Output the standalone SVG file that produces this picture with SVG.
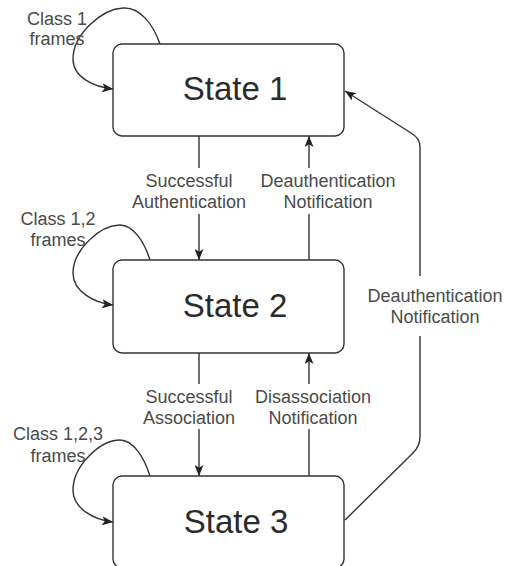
<svg xmlns="http://www.w3.org/2000/svg" width="505" height="566" viewBox="0 0 505 566">
  <style>
    .box { fill: #ffffff; stroke: #333333; stroke-width: 1.4; }
    .state { font-family: "Liberation Sans", Arial, sans-serif; font-size: 33px; fill: #2b2b2b; text-anchor: middle; }
    .lbl { font-family: "Liberation Sans", Arial, sans-serif; font-size: 18px; fill: #4a4a4a; text-anchor: middle; }
    .edge { fill: none; stroke: #333333; stroke-width: 1.4; marker-end: url(#arrow); }
    .bg { fill: #ffffff; }
  </style>
  <defs>
    <marker id="arrow" viewBox="0 0 11 9" refX="11" refY="4.5" markerWidth="11" markerHeight="9" markerUnits="userSpaceOnUse" orient="auto">
      <path d="M0,0 L11,4.5 L0,9 L2.8,4.5 Z" fill="#222222"/>
    </marker>
  </defs>
  <rect width="505" height="566" fill="#ffffff"/>

  <!-- connectors -->
  <g id="connectors">
    <!-- self loops -->
    <path class="edge" d="M160,44 C153,24 140,7 123,8 C102,9 73,34 73,59 C73,78 95,87 113,89"/>
    <path class="edge" d="M150,260 C144,241 133,225 120,225 C100,225 73,250 73,273 C73,292 95,303 113,305"/>
    <path class="edge" d="M150,476 C144,457 133,440 120,440 C100,440 73,466 73,490 C73,509 95,520 113,522"/>

    <!-- State 1 -> State 2 -->
    <path class="edge" d="M199,136 L199,260"/>
    <!-- State 2 -> State 1 -->
    <path class="edge" d="M309,260 L309,136"/>
    <!-- State 2 -> State 3 -->
    <path class="edge" d="M199,353 L199,476"/>
    <!-- State 3 -> State 2 -->
    <path class="edge" d="M309,476 L309,353"/>
    <!-- State 3 -> State 1 -->
    <path class="edge" d="M345,520 L413,453 Q420,446 420,437 L420,147 Q420,138 411,133 L345,91"/>

    <!-- edge labels -->
    <rect class="bg" x="130" y="168" width="118" height="46"/>
    <text class="lbl" x="189" y="187">Successful</text>
    <text class="lbl" x="189" y="208">Authentication</text>

    <rect class="bg" x="257" y="168" width="142" height="46"/>
    <text class="lbl" x="328" y="187">Deauthentication</text>
    <text class="lbl" x="328" y="208">Notification</text>

    <rect class="bg" x="130" y="384" width="118" height="45"/>
    <text class="lbl" x="189" y="403">Successful</text>
    <text class="lbl" x="189" y="424">Association</text>

    <rect class="bg" x="252" y="384" width="122" height="45"/>
    <text class="lbl" x="313" y="403">Disassociation</text>
    <text class="lbl" x="313" y="424">Notification</text>

    <rect class="bg" x="365" y="276" width="140" height="60"/>
    <text class="lbl" x="435" y="302">Deauthentication</text>
    <text class="lbl" x="435" y="323">Notification</text>

    <text class="lbl" x="57" y="25">Class 1</text>
    <text class="lbl" x="57" y="45">frames</text>
    <text class="lbl" x="58" y="225">Class 1,2</text>
    <text class="lbl" x="58" y="246">frames</text>
    <text class="lbl" x="58" y="440">Class 1,2,3</text>
    <text class="lbl" x="58" y="462">frames</text>
  </g>

  <!-- states -->
  <g id="state1">
    <rect class="box" x="113" y="44" width="231" height="92" rx="9"/>
    <text class="state" x="235" y="100">State 1</text>
  </g>
  <g id="state2">
    <rect class="box" x="113" y="260" width="231" height="93" rx="9"/>
    <text class="state" x="235" y="317">State 2</text>
  </g>
  <g id="state3">
    <rect class="box" x="113" y="476" width="231" height="92" rx="9"/>
    <text class="state" x="236" y="533">State 3</text>
  </g>
</svg>
